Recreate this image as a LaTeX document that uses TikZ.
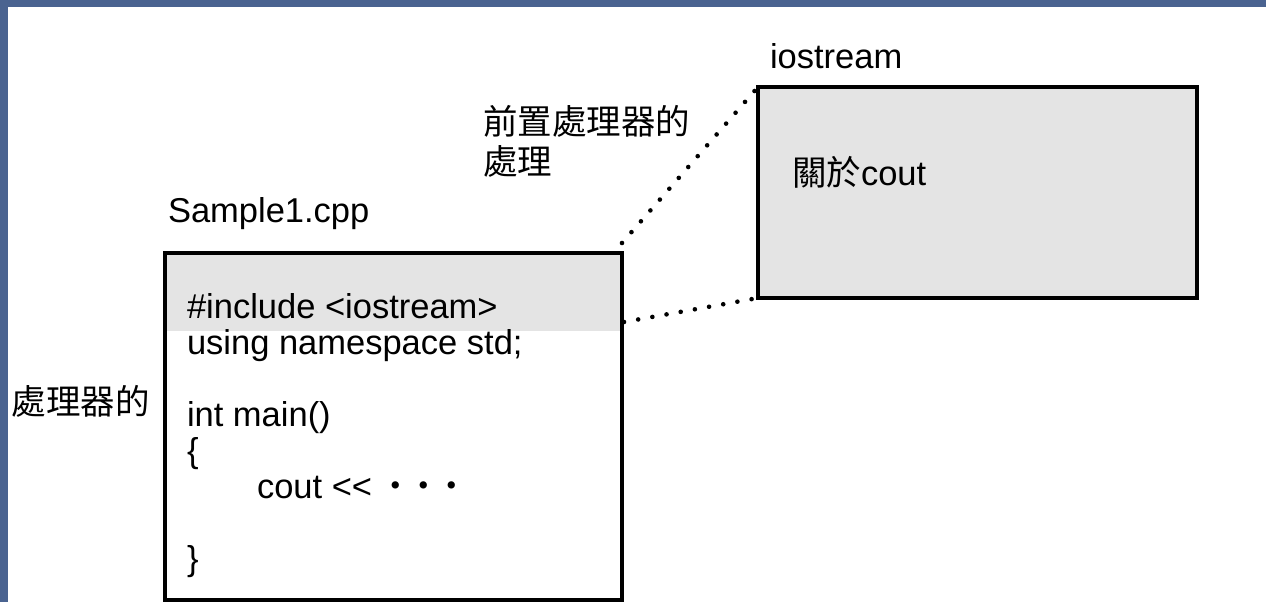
\documentclass[tikz,border=0pt]{standalone}
\usepackage{fontspec}
\setmainfont{Liberation Sans}
\newfontfamily\cjk{Noto Sans CJK TC}
\definecolor{frameblue}{HTML}{4A6390}
\definecolor{boxgray}{HTML}{E4E4E4}
\begin{document}
\begin{tikzpicture}[x=1pt,y=-1pt,
  every node/.style={inner sep=0pt, outer sep=0pt},
  txt/.style={anchor=base west, font=\fontsize{34.5}{40}\selectfont},
  boxframe/.style={draw=black, line width=4pt, anchor=north west, minimum width=#1},
  dotline/.style={line width=4.6pt, line cap=round, dash pattern=on 0pt off 14.4pt}]
\useasboundingbox (0,0) rectangle (1266,602);
\clip (0,0) rectangle (1266,602);
\fill[white] (0,0) rectangle (1266,602);
\fill[frameblue] (0,0) rectangle (1266,7);
\fill[frameblue] (0,0) rectangle (8,602);

% right box (iostream)
\node[boxframe=439pt, fill=boxgray, minimum height=211pt] (R) at (758,87) {};
\node[txt] (rtitle) at (770,68) {iostream};
\node[txt] (rtext) at (792,185) {{\cjk 關於}cout};

% left box (Sample1.cpp)
\node[fill=boxgray, anchor=north west, minimum width=457pt, minimum height=78pt] (band) at (165,253) {};
\node[boxframe=457pt, minimum height=347pt] (L) at (165,253) {};
\node[txt] (ltitle) at (168,222) {Sample1.cpp};
\node[txt] (c1) at (187,318) {\#include <iostream>};
\node[txt] (c2) at (187,354) {using namespace std;};
\node[txt] (c3) at (187,426) {int main()};
\node[txt] (c4) at (187,462) {\{};
\node[txt] (c5) at (257,498) {cout <{}<\hspace{10pt}{\cjk\makebox[28pt][c]{・}\makebox[28pt][c]{・}\makebox[28pt][c]{・}}};
\node[txt] (c6) at (187,570) {\}};

% labels
\node[txt] (pp1) at (483,134) {\cjk 前置處理器的};
\node[txt] (pp2) at (483,174) {\cjk 處理};
\node[txt] (side) at (12,414) {\cjk 處理器的};

% dotted connectors
\coordinate (inc) at (624,322);
\draw[dotline] ([yshift=10pt]L.north east) -- (R.north west);
\draw[dotline] (inc) -- (R.south west);
\end{tikzpicture}
\end{document}
